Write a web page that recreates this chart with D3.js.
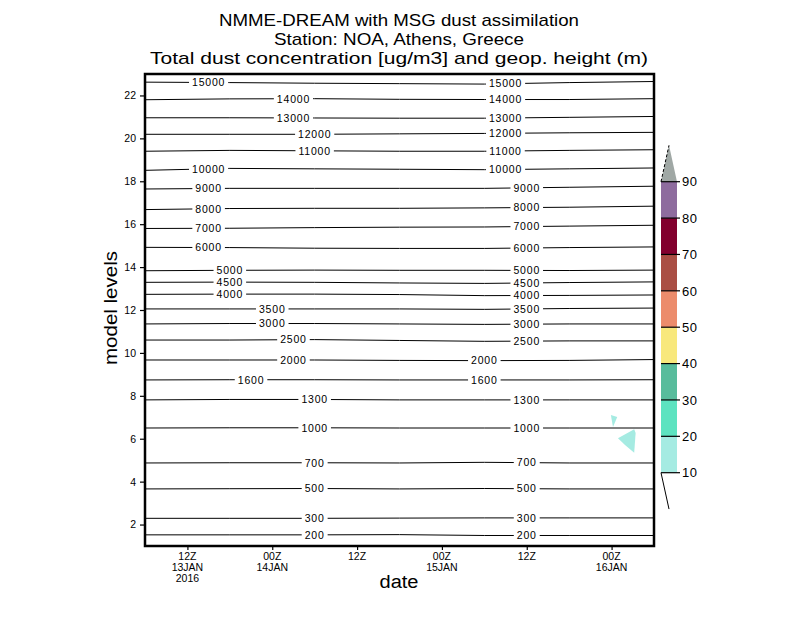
<!DOCTYPE html>
<html>
<head>
<meta charset="utf-8">
<script src="https://cdn.jsdelivr.net/npm/d3@7"></script>
<style>
  body { margin: 0; background: #fff; }
  text { font-family: "Liberation Sans", Arial, sans-serif; fill: #000; }
</style>
</head>
<body>
<div id="chart"></div>
<script>
// time axis: hours after 13JAN2016 06Z, one sample every 12 h
const hours = [0, 12, 24, 36, 48, 60, 72];

// geopotential height contours (m) and their model level at each time
const heights = [15000, 14000, 13000, 12000, 11000, 10000, 9000, 8000, 7000, 6000,
                 5000, 4500, 4000, 3500, 3000, 2500, 2000, 1600, 1300, 1000, 700, 500, 300, 200];
const levels = [
    [22.62, 22.60, 22.57, 22.55, 22.53, 22.60, 22.65],
    [21.80, 21.84, 21.85, 21.82, 21.81, 21.81, 21.85],
    [20.96, 20.96, 20.95, 20.94, 20.94, 20.98, 21.02],
    [20.19, 20.19, 20.19, 20.21, 20.23, 20.26, 20.28],
    [19.40, 19.44, 19.42, 19.40, 19.40, 19.44, 19.47],
    [18.51, 18.60, 18.58, 18.56, 18.54, 18.58, 18.62],
    [17.64, 17.67, 17.67, 17.67, 17.67, 17.72, 17.77],
    [16.68, 16.73, 16.74, 16.74, 16.76, 16.79, 16.84],
    [15.80, 15.81, 15.84, 15.86, 15.87, 15.91, 15.95],
    [14.92, 14.91, 14.88, 14.87, 14.87, 14.91, 14.94],
    [13.83, 13.85, 13.86, 13.85, 13.85, 13.84, 13.86],
    [13.29, 13.30, 13.29, 13.26, 13.24, 13.28, 13.31],
    [12.73, 12.74, 12.74, 12.72, 12.67, 12.68, 12.70],
    [12.05, 12.05, 12.05, 12.05, 12.03, 12.07, 12.09],
    [11.35, 11.37, 11.37, 11.35, 11.33, 11.35, 11.35],
    [10.60, 10.60, 10.62, 10.58, 10.54, 10.56, 10.56],
    [9.67, 9.67, 9.67, 9.65, 9.64, 9.65, 9.69],
    [8.74, 8.75, 8.75, 8.74, 8.74, 8.74, 8.75],
    [7.81, 7.83, 7.83, 7.81, 7.81, 7.81, 7.81],
    [6.50, 6.51, 6.51, 6.50, 6.50, 6.50, 6.50],
    [4.87, 4.88, 4.88, 4.87, 4.90, 4.87, 4.87],
    [3.66, 3.67, 3.68, 3.66, 3.68, 3.66, 3.66],
    [2.29, 2.29, 2.29, 2.30, 2.31, 2.31, 2.31],
    [1.52, 1.52, 1.52, 1.53, 1.49, 1.49, 1.49]
];
// hours where each contour carries its label
const labelHours = [
    [9, 51], [21, 51], [21, 51], [24, 51], [24, 51], [9, 51], [9, 54], [9, 54],
    [9, 54], [9, 54], [12, 54], [12, 54], [12, 54], [18, 54], [18, 54], [21, 54],
    [21, 48], [15, 48], [24, 54], [24, 54], [24, 54], [24, 54], [24, 54], [24, 54]
];

// dust concentration above 10 ug/m3: outline points [hour, level]
const dustPatches = [
    [[65.9, 7.11], [66.8, 7.01], [66.2, 6.55]],
    [[66.9, 6.02], [69.2, 6.44], [69.4, 6.27], [69.2, 5.35], [67.9, 5.71]]
];

// colour bar
const dustThresholds = [10, 20, 30, 40, 50, 60, 70, 80, 90];
const dustColors = ["#a5ebe2", "#5de3c0", "#58bc9c", "#f8e87c", "#ec8c6c",
                    "#aa4e44", "#82002e", "#8e6c9e", "#a0a8a5"];

const yTicks = [2, 4, 6, 8, 10, 12, 14, 16, 18, 20, 22];
const xTickHours = [6, 18, 30, 42, 54, 66];

const width = 800, height = 618;
const start = new Date(Date.UTC(2016, 0, 13, 6));
const toDate = h => new Date(start.getTime() + h * 3600e3);

const svg = d3.select("#chart").append("svg")
    .attr("width", width)
    .attr("height", height);

const x = d3.scaleUtc()
    .domain([toDate(0), toDate(72)])
    .range([145, 654]);
const y = d3.scaleLinear()
    .domain([1, 23])
    .range([546, 74]);

// dust shading
const poly = d3.line()
    .x(d => x(toDate(d[0])))
    .y(d => y(d[1]));
svg.selectAll(".dust")
    .data(dustPatches)
    .enter().append("path")
    .attr("d", d => poly(d) + "Z")
    .attr("fill", dustColors[0]);

// height contours
const line = d3.line()
    .x((d, i) => x(toDate(hours[i])))
    .y(d => y(d));
svg.selectAll(".contour")
    .data(levels)
    .enter().append("path")
    .attr("d", line)
    .attr("fill", "none")
    .attr("stroke", "#000")
    .attr("stroke-width", 1);

// contour labels on a white gap
const levelAt = d3.scaleLinear().domain(hours);
heights.forEach(function(hgt, i) {
    labelHours[i].forEach(function(h) {
        levelAt.range(levels[i]);
        const cx = x(toDate(h)), cy = y(levelAt(h));
        const g = svg.append("g").attr("transform", `translate(${cx},${cy})`);
        const t = g.append("text")
            .attr("text-anchor", "middle")
            .attr("dy", "0.36em")
            .attr("font-size", "10.5px")
            .attr("letter-spacing", "0.8px")
            .text(hgt);
        const w = t.node().getComputedTextLength();
        g.insert("rect", "text")
            .attr("x", -w / 2 - 3)
            .attr("y", -5)
            .attr("width", w + 6)
            .attr("height", 10)
            .attr("fill", "#fff");
    });
});

// frame
svg.append("rect")
    .attr("x", 145).attr("y", 74)
    .attr("width", 654 - 145).attr("height", 546 - 74)
    .attr("fill", "none")
    .attr("stroke", "#000")
    .attr("stroke-width", 2.5);

// y axis
const yAxis = svg.append("g").attr("transform", "translate(145,0)")
    .call(d3.axisLeft(y).tickValues(yTicks).tickSize(5).tickPadding(4));
yAxis.select(".domain").remove();
yAxis.selectAll("line").attr("stroke-width", 1.2);
yAxis.selectAll("text").attr("font-size", "10.5px")
    .attr("font-family", "Liberation Sans, Arial, sans-serif");

// x axis
const xTicks = xTickHours.map(toDate);
const xAxis = svg.append("g").attr("transform", "translate(0,546)")
    .call(d3.axisBottom(x).tickValues(xTicks).tickSize(4).tickFormat(""));
xAxis.select(".domain").remove();
xAxis.selectAll("line").attr("stroke-width", 1.2);

const monFmt = d3.utcFormat("%d%b");
xTicks.forEach(function(d, i) {
    const lines = [d3.utcFormat("%HZ")(d)];
    if (d.getUTCHours() === 0 || i === 0) lines.push(monFmt(d).toUpperCase());
    if (i === 0) lines.push(d.getUTCFullYear());
    lines.forEach(function(s, k) {
        svg.append("text")
            .attr("x", x(d))
            .attr("y", 560 + k * 11)
            .attr("text-anchor", "middle")
            .attr("font-size", "10.5px")
            .text(s);
    });
});

// titles
const titles = [
    ["NMME-DREAM with MSG dust assimilation", 26, 360],
    ["Station: NOA, Athens, Greece", 45, 250],
    ["Total dust concentration [ug/m3] and geop. height (m)", 64, 498]
];
titles.forEach(function(t) {
    svg.append("text")
        .attr("x", 399).attr("y", t[1])
        .attr("text-anchor", "middle")
        .attr("font-family", "DejaVu Sans, sans-serif")
        .attr("font-size", "17px")
        .attr("textLength", t[2])
        .attr("lengthAdjust", "spacingAndGlyphs")
        .text(t[0]);
});

svg.append("text")
    .attr("transform", "translate(117,308) rotate(-90)")
    .attr("text-anchor", "middle")
    .attr("font-family", "DejaVu Sans, sans-serif")
    .attr("font-size", "18px")
    .attr("textLength", 114)
    .attr("lengthAdjust", "spacingAndGlyphs")
    .text("model levels");

svg.append("text")
    .attr("x", 399).attr("y", 588)
    .attr("text-anchor", "middle")
    .attr("font-family", "DejaVu Sans, sans-serif")
    .attr("font-size", "18px")
    .attr("textLength", 39)
    .attr("lengthAdjust", "spacingAndGlyphs")
    .text("date");

// colour bar
const cb = d3.scaleLinear().domain([10, 90]).range([472.7, 181.7]);
const cbX0 = 661, cbX1 = 677;
const cbg = svg.append("g");
dustThresholds.slice(0, -1).forEach(function(v, i) {
    cbg.append("rect")
        .attr("x", cbX0).attr("y", cb(v + 10))
        .attr("width", cbX1 - cbX0).attr("height", cb(v) - cb(v + 10))
        .attr("fill", dustColors[i]);
});
// upper arrow (above 90)
cbg.append("path")
    .attr("d", `M${cbX0},${cb(90)}L${(cbX0 + cbX1) / 2},${cb(100)}L${cbX1},${cb(90)}Z`)
    .attr("fill", dustColors[8]);
cbg.append("path")
    .attr("d", `M${cbX0},${cb(90)}L${(cbX0 + cbX1) / 2},${cb(100)}`)
    .attr("stroke", "#000")
    .attr("stroke-dasharray", "3,2")
    .attr("fill", "none");
// lower arrow (below 10)
cbg.append("path")
    .attr("d", `M${cbX0},${cb(10)}L${(cbX0 + cbX1) / 2},${cb(0)}`)
    .attr("stroke", "#000")
    .attr("fill", "none");
dustThresholds.forEach(function(v) {
    cbg.append("line")
        .attr("x1", cbX0).attr("x2", 680)
        .attr("y1", cb(v)).attr("y2", cb(v))
        .attr("stroke", "#000")
        .attr("stroke-width", 1.2);
    cbg.append("text")
        .attr("x", 682).attr("y", cb(v))
        .attr("dy", "0.36em")
        .attr("font-size", "13px")
        .attr("letter-spacing", "0.5px")
        .text(v);
});
</script>
</body>
</html>
